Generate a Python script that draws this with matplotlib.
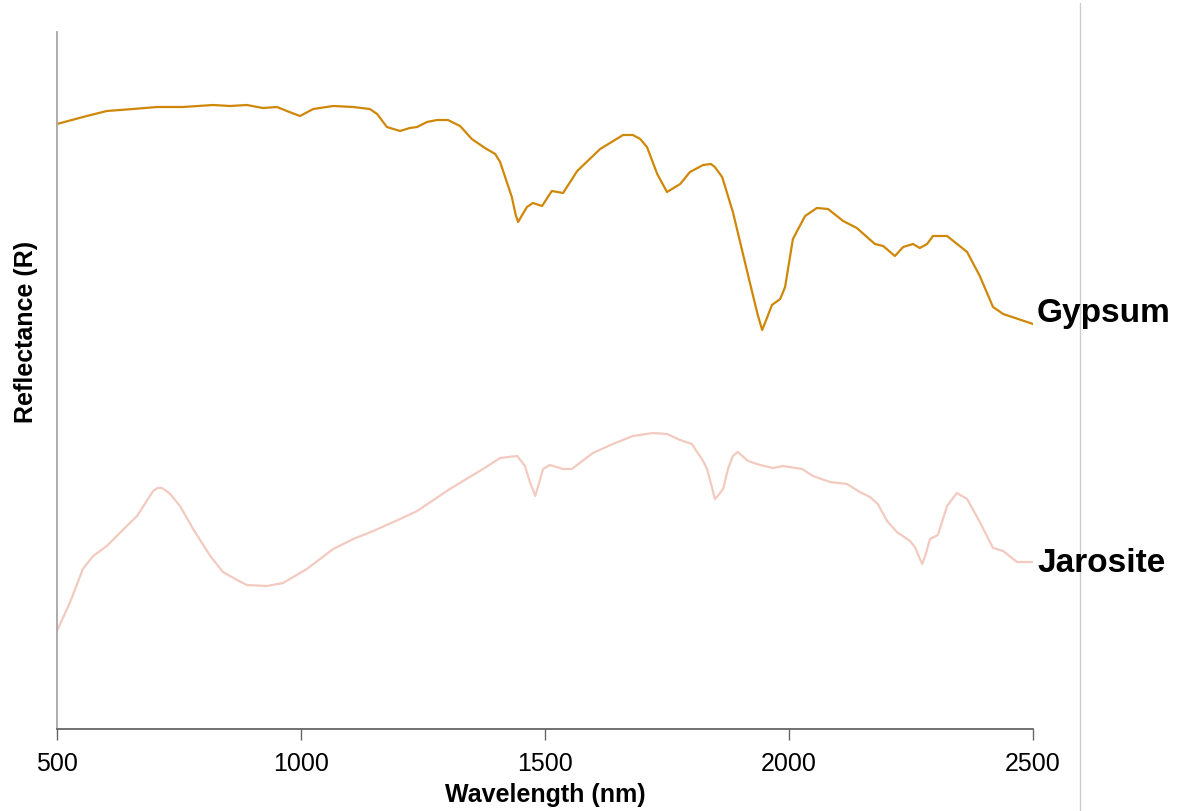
import matplotlib
matplotlib.use("Agg")
import matplotlib.pyplot as plt
from matplotlib.lines import Line2D

plt.rcParams['font.family'] = ['Liberation Sans', 'DejaVu Sans']

# Gypsum spectrum (wavelength nm, relative reflectance)
gypsum_wl = [500, 561, 602, 656, 705, 758, 820, 855, 889, 922, 951, 971, 998, 1025,
             1066, 1107, 1141, 1156, 1176, 1203, 1223, 1238, 1258, 1279, 1301, 1326,
             1350, 1377, 1398, 1408, 1432, 1440, 1445, 1452, 1463, 1475, 1494, 1514, 1537, 1566,
             1613, 1660, 1680, 1695, 1709, 1730, 1750, 1777, 1797, 1824, 1840, 1848, 1863, 1885,
             1920, 1936, 1945, 1954, 1965, 1982, 1992, 2008, 2033, 2057, 2080, 2111, 2139, 2176,
             2193, 2217, 2234, 2254, 2268, 2283, 2295, 2324, 2365, 2391, 2418, 2439, 2500]
gypsum_r = [.605, .613, .618, .620, .622, .622, .624, .623, .624, .621, .622, .618, .613, .620,
            .623, .622, .620, .615, .602, .598, .601, .602, .607, .609, .609, .603,
            .590, .581, .575, .567, .532, .514, .507, .513, .522, .526, .523, .538, .536, .558,
            .580, .594, .594, .590, .582, .555, .537, .545, .557, .564, .565, .562, .552, .517,
            .446, .414, .399, .410, .424, .430, .442, .490, .513, .521, .520, .508, .501, .485,
            .483, .473, .482, .485, .481, .485, .493, .493, .477, .453, .422, .415, .405]

# Jarosite spectrum
jarosite_wl = [500, 527, 553, 574, 602, 643, 664, 697, 706, 715, 724, 732, 752, 779, 814, 840, 869,
               889, 930, 963, 1012, 1066, 1107, 1148, 1203, 1238, 1305, 1373, 1408, 1443,
               1459, 1469, 1480, 1486, 1496, 1510, 1537, 1555, 1598, 1639, 1680, 1721, 1750, 1777,
               1801, 1824, 1832, 1842, 1848, 1854, 1865, 1875, 1885, 1895, 1916, 1941, 1967, 1988, 2027,
               2049, 2084, 2119, 2145, 2166, 2182, 2201, 2221, 2248, 2258, 2264, 2273, 2279, 2289,
               2305, 2324, 2344, 2365, 2391, 2418, 2439, 2467, 2500]
jarosite_r = [.098, .127, .160, .173, .183, .203, .213, .238, .241, .241, .238, .235, .223, .200, .173, .157, .149,
              .144, .143, .146, .160, .180, .190, .198, .210, .218, .240, .260, .271, .273,
              .263, .247, .233, .243, .260, .264, .260, .260, .276, .285, .293, .296, .295, .289,
              .285, .268, .260, .242, .230, .233, .240, .260, .273, .277, .268, .264, .261, .263, .260,
              .253, .247, .245, .237, .232, .225, .208, .197, .188, .182, .175, .165, .173, .190,
              .194, .223, .236, .230, .207, .181, .178, .167, .167]

xticks = [500, 1000, 1500, 2000, 2500]
series_names = ["Gypsum", "Jarosite"]

W, H = 1178, 812
fig = plt.figure(figsize=(W / 100, H / 100), dpi=100)
ax = fig.add_axes([57 / W, (H - 730) / H, (1033 - 57) / W, (730 - 33) / H])

ax.plot(gypsum_wl, gypsum_r, color='#CF8708', lw=1.6, solid_joinstyle='round')
ax.plot(jarosite_wl, jarosite_r, color='#F2CABF', lw=1.6, solid_joinstyle='round')

ax.set_xlim(500, 2500)
ax.set_ylim(0, 0.697)
ax.set_xticks(xticks)
ax.set_xticklabels([str(t) for t in xticks], fontsize=18)
ax.set_yticks([])
ax.tick_params(axis='x', direction='out', length=8, width=1, color='#666666', pad=8)
for s in ['top', 'right']:
    ax.spines[s].set_visible(False)
ax.spines['left'].set_color('#a6a6a6')
ax.spines['left'].set_linewidth(1.3)
ax.spines['bottom'].set_color('#666666')
ax.spines['bottom'].set_linewidth(1.3)

# light vertical frame line at right
fig.add_artist(Line2D([1080 / W, 1080 / W], [0, (H - 4) / H], transform=fig.transFigure,
                      color='#cccccc', lw=1, zorder=0))

fig.text(545 / W, (H - 802) / H, "Wavelength (nm)", ha='center', va='baseline',
         fontsize=18, fontweight='bold')
fig.text(26 / W, (H - 332) / H, "Reflectance (R)", ha='center', va='center',
         rotation=90, fontsize=18, fontweight='bold')

fig.text(1037 / W, (H - 322) / H, series_names[0], ha='left', va='baseline',
         fontsize=24, fontweight='bold', zorder=5)
fig.text(1037 / W, (H - 572) / H, series_names[1], ha='left', va='baseline',
         fontsize=24, fontweight='bold', zorder=5)

fig.savefig("out.png", dpi=100)
